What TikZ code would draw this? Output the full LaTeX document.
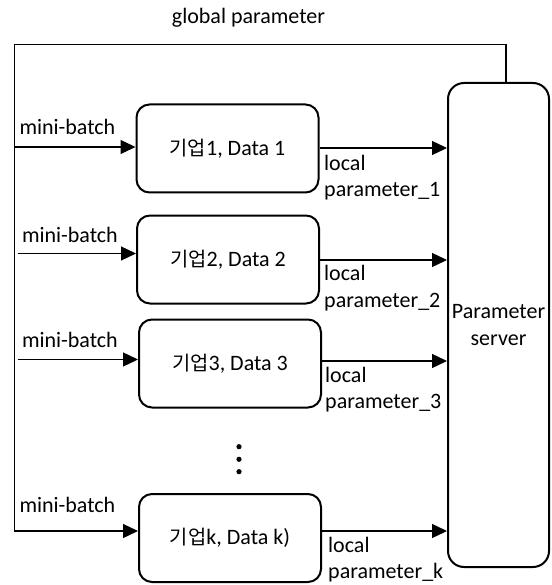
\documentclass[tikz,border=0pt]{standalone}
\usepackage{fontspec}
\setmainfont{Carlito}
\newfontfamily\kr{Noto Sans CJK KR}[Scale=0.9]
\usetikzlibrary{arrows.meta}
\tikzset{
  firma/.style={draw, line width=2pt, rounded corners=13pt, minimum width=182pt, minimum height=88pt, inner sep=0pt},
  enlace/.style={line width=1.3pt, -{Triangle[length=15pt,width=14pt]}},
  etiq/.style={inner sep=0pt, align=left}
}

\begin{document}
\begin{tikzpicture}[x=1pt, y=-1pt, font=\fontsize{22}{26.4}\selectfont]
\useasboundingbox (0,0) rectangle (551,585);
% Servidor de parametros con k empresas (mini-batch y parametros locales)
\node[firma] (b1) at (227.5,148.5) {{\kr 기업}1, Data 1};
\node[firma] (b2) at (228,259.5) {{\kr 기업}2, Data 2};
\node[firma] (b3) at (230,363.5) {{\kr 기업}3, Data 3};
\node[firma] (bk) at (230,538) {{\kr 기업}k, Data k)};
\node[draw, line width=2pt, rounded corners=16pt, minimum width=101pt, minimum height=484pt, inner sep=0pt, align=center] (ps) at (498.5,325) {Parameter\\server};
\fill (239,446.7) circle (2.6pt) (239,459.3) circle (2.6pt) (239,471.7) circle (2.6pt);

\node[etiq, anchor=base] (gp) at (248.5,24) {global parameter};
\node[etiq, anchor=base west] (mb1) at (19.3,135) {mini-batch};
\node[etiq, anchor=base west] (mb2) at (21.8,242) {mini-batch};
\node[etiq, anchor=base west] (mb3) at (21.8,347) {mini-batch};
\node[etiq, anchor=base west] (mbk) at (19.3,512) {mini-batch};
\node[etiq, anchor=north west] (lp1) at (324,155) {local\\parameter\_1};
\node[etiq, anchor=north west] (lp2) at (324,265.5) {local\\parameter\_2};
\node[etiq, anchor=north west] (lp3) at (325,367) {local\\parameter\_3};
\node[etiq, anchor=north west] (lpk) at (328,537) {local\\parameter\_k};

\coordinate (g) at (506,44.3);
\coordinate (m1) at (14.7,147);
\coordinate (m2) at (17.6,253.5);
\coordinate (m3) at (17.6,359.5);
\coordinate (mk) at (14.7,531);
\coordinate (o1) at (0,148);
\coordinate (o2) at (0,260);
\coordinate (o3) at (0,361);
\coordinate (ok) at (0,531);

\draw[enlace] (ps.north -| g) -- (g) -| (mk) -- (mk -| bk.west);
\draw[enlace] (m1) -- (m1 -| b1.west);
\draw[enlace] (m2) -- (m2 -| b2.west);
\draw[enlace] (m3) -- (m3 -| b3.west);
\draw[enlace] (b1.east |- o1) -- (ps.west |- o1);
\draw[enlace] (b2.east |- o2) -- (ps.west |- o2);
\draw[enlace] (b3.east |- o3) -- (ps.west |- o3);
\draw[enlace] (bk.east |- ok) -- (ps.west |- ok);
\end{tikzpicture}
\end{document}
